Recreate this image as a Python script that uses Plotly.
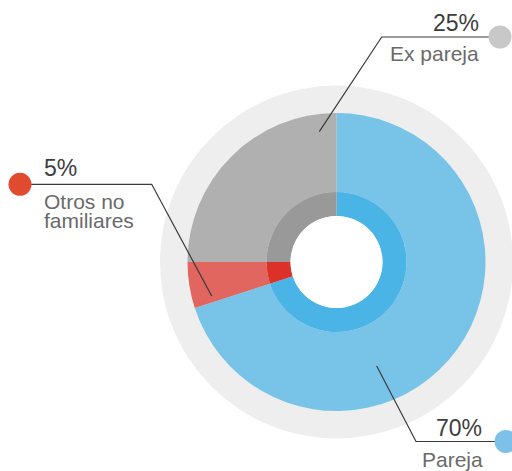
import plotly.graph_objects as go

# ---- data ----
categories = ["Pareja", "Otros no familiares", "Ex pareja"]
values = [70, 5, 25]
pct_labels = ["70%", "5%", "25%"]
outer_colors = ["#78C3E8", "#E0665F", "#B0B0B0"]
inner_colors = ["#4AB4E6", "#DC3128", "#999999"]
dot_colors = ["#7DC1E9", "#E04B30", "#C8C8C8"]

W, H = 512, 471
CX, CY = 336.5, 262
R_BG, R_MAIN, R_INNER, R_HOLE = 176.5, 149, 70, 46


def px(x):
    return x / W


def py(y):
    return 1 - y / H


def domain(r):
    return dict(x=[px(CX - r), px(CX + r)], y=[py(CY + r), py(CY - r)])


fig = go.Figure()
fig.add_trace(go.Pie(labels=categories, values=values,
                     marker=dict(colors=outer_colors, line=dict(width=0)),
                     hole=R_INNER / R_MAIN, domain=domain(R_MAIN), textinfo="none",
                     sort=False, direction="clockwise", rotation=0, showlegend=False))
fig.add_trace(go.Pie(labels=categories, values=values,
                     marker=dict(colors=inner_colors, line=dict(width=0)),
                     hole=R_HOLE / R_INNER, domain=domain(R_INNER), textinfo="none",
                     sort=False, direction="clockwise", rotation=0, showlegend=False))

shapes = [
    dict(type="circle", xref="paper", yref="paper", layer="below",
         x0=px(CX - R_BG), x1=px(CX + R_BG), y0=py(CY + R_BG), y1=py(CY - R_BG),
         fillcolor="#EEEEEE", line=dict(width=0)),
    dict(type="circle", xref="paper", yref="paper", layer="above",
         x0=px(CX - R_HOLE), x1=px(CX + R_HOLE), y0=py(CY + R_HOLE), y1=py(CY - R_HOLE),
         fillcolor="#FFFFFF", line=dict(width=0)),
]

# leader lines (pixel coords) and dots
leaders = {
    "Pareja": [(376.7, 366), (416, 441.5), (506, 441.5)],
    "Otros no familiares": [(211.7, 296), (151.7, 184.3), (20, 184.3)],
    "Ex pareja": [(319.3, 131.7), (381.7, 37), (500, 37)],
}
for cat, dc in zip(categories, dot_colors):
    pts = leaders[cat]
    path = "M " + " L ".join(f"{px(x)},{py(y)}" for x, y in pts)
    shapes.append(dict(type="path", path=path, xref="paper", yref="paper",
                       line=dict(color="#3a3a3a", width=1.2)))
    ex, ey = pts[-1]
    r = 11.5
    shapes.append(dict(type="circle", xref="paper", yref="paper",
                       x0=px(ex - r), x1=px(ex + r), y0=py(ey + r), y1=py(ey - r),
                       fillcolor=dc, line=dict(width=0)))

FONT = "Liberation Sans, Arial, sans-serif"
pct_font = dict(family=FONT, size=23, color="#3d3d3d")
lab_font = dict(family=FONT, size=21, color="#6a6a6a")

annotations = [
    # Pareja
    dict(text=pct_labels[0], x=px(484), y=py(427.7), xanchor="right", font=pct_font),
    dict(text=categories[0], x=px(485), y=py(459.5), xanchor="right", font=lab_font),
    # Otros no familiares
    dict(text=pct_labels[1], x=px(42), y=py(167.6), xanchor="left", font=pct_font),
    dict(text="Otros no", x=px(41.5), y=py(201.5), xanchor="left", font=lab_font),
    dict(text="familiares", x=px(41.5), y=py(220), xanchor="left", font=lab_font),
    # Ex pareja
    dict(text=pct_labels[2], x=px(480.5), y=py(22.7), xanchor="right", font=pct_font),
    dict(text=categories[2], x=px(480.5), y=py(54), xanchor="right", font=lab_font),
]
for a in annotations:
    a.update(xref="paper", yref="paper", yanchor="middle", showarrow=False)

fig.update_layout(width=W, height=H, margin=dict(l=0, r=0, t=0, b=0),
                  paper_bgcolor="white", plot_bgcolor="white",
                  shapes=shapes, annotations=annotations, showlegend=False)

fig.write_html("out.html", config={"displayModeBar": False},
               post_script="document.body.style.margin='0';document.body.style.padding='0';")
